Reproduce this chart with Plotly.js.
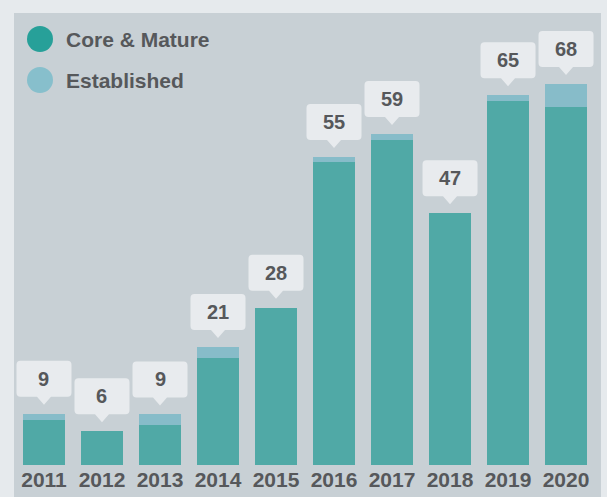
<!DOCTYPE html>
<html>
<head>
<meta charset="utf-8">
<script src="https://cdn.plot.ly/plotly-3.0.1.min.js"></script>
<style>html,body{margin:0;padding:0;background:#e6eaed;}#chart{width:607px;height:497px;}</style>
</head>
<body>
<div id="chart"></div>
<script>
var years = [2011, 2012, 2013, 2014, 2015, 2016, 2017, 2018, 2019, 2020];
var seriesNames = ["Core & Mature", "Established"];
var coreMature = [8.0, 6.0, 7.1, 19.0, 28.0, 53.9, 57.8, 44.8, 64.8, 63.7];
var established = [1.1, 0, 1.9, 2.0, 0, 0.9, 1.1, 0, 1.0, 4.1];
var totalLabels = [9, 6, 9, 21, 28, 55, 59, 47, 65, 68];

var barColors = ["#50a9a6", "#87bcc9"];
var legendColors = ["#27a099", "#87bfcc"];
var textColor = "#56585b";
var font = "Liberation Sans, Arial, sans-serif";

var traces = [
  {type: "bar", x: years, y: coreMature, name: seriesNames[0], width: 0.724,
   marker: {color: barColors[0]}, hoverinfo: "skip"},
  {type: "bar", x: years, y: established, name: seriesNames[1], width: 0.724,
   marker: {color: barColors[1]}, hoverinfo: "skip"}
];

// callout shape path in pixels relative to bar top
function calloutPath() {
  var hw = 27.5, bot = 17, top = 53, r = 4, ph = 7, tip = 9;
  return "M " + (-ph) + " " + bot +
    " L " + (hw - r) + " " + bot +
    " Q " + hw + " " + bot + " " + hw + " " + (bot + r) +
    " L " + hw + " " + (top - r) +
    " Q " + hw + " " + top + " " + (hw - r) + " " + top +
    " L " + (-hw + r) + " " + top +
    " Q " + (-hw) + " " + top + " " + (-hw) + " " + (top - r) +
    " L " + (-hw) + " " + (bot + r) +
    " Q " + (-hw) + " " + bot + " " + (-hw + r) + " " + bot +
    " L " + (-ph) + " " + bot +
    " L 0 " + tip + " L " + ph + " " + bot + " Z";
}

var shapes = [
  {type: "rect", xref: "paper", yref: "paper", x0: 0, x1: 1, y0: -0.2, y1: 1,
   fillcolor: "#c8d0d5", line: {width: 0}, layer: "below"}
];
var annotations = [];

years.forEach(function (yr, i) {
  var tot = coreMature[i] + established[i];
  shapes.push({type: "path", xref: "x", yref: "y", xsizemode: "pixel", ysizemode: "pixel",
    xanchor: yr, yanchor: tot, path: calloutPath(),
    fillcolor: "#e8ebee", line: {width: 0}, layer: "above"});
  annotations.push({x: yr, y: tot, xref: "x", yref: "y", text: String(totalLabels[i]),
    showarrow: false, yshift: 35, xanchor: "center", yanchor: "middle",
    font: {family: font, size: 20, color: textColor, weight: "bold"}});
});

// legend
var legendY = [-26, -67];
seriesNames.forEach(function (nm, i) {
  shapes.push({type: "circle", xref: "paper", yref: "paper", xsizemode: "pixel", ysizemode: "pixel",
    xanchor: 0, yanchor: 1, x0: 13, x1: 39, y0: legendY[i] - 13, y1: legendY[i] + 13,
    fillcolor: legendColors[i], line: {width: 0}});
  annotations.push({xref: "paper", yref: "paper", x: 0, y: 1, xshift: 50, yshift: legendY[i],
    xanchor: "left", yanchor: "middle", showarrow: false, text: nm,
    font: {family: font, size: 21, color: textColor, weight: "bold"}});
});

var layout = {
  width: 607, height: 497,
  margin: {l: 14, r: 6, t: 13, b: 32},
  paper_bgcolor: "#e6eaed",
  plot_bgcolor: "rgba(0,0,0,0)",
  barmode: "stack",
  showlegend: false,
  xaxis: {type: "linear", range: [2010.483, 2020.603], tickvals: years, ticktext: years.map(String),
    showgrid: false, zeroline: false, showline: false, ticks: "",
    tickfont: {family: font, size: 21, color: textColor, weight: "bold"}},
  yaxis: {range: [0, 80.43], visible: false, showgrid: false, zeroline: false},
  shapes: shapes,
  annotations: annotations
};

Plotly.newPlot("chart", traces, layout, {displayModeBar: false, staticPlot: true});
</script>
</body>
</html>
